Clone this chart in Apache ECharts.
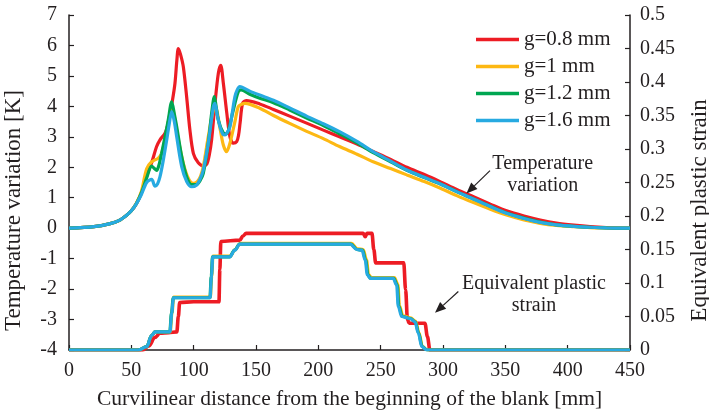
<!DOCTYPE html>
<html>
<head>
<meta charset="utf-8">
<script src="https://cdn.jsdelivr.net/npm/echarts@6/dist/echarts.min.js"></script>
<style>
  html, body { margin: 0; padding: 0; background: #fff; }
  #chart { width: 709px; height: 416px; }
</style>
</head>
<body>
<div id="chart"></div>
<script>
// Gap settings shown in the legend
const seriesNames = ['g=0.8 mm', 'g=1 mm', 'g=1.2 mm', 'g=1.6 mm'];
const seriesColors = ['#ED1C24', '#FDB813', '#00A651', '#27AAE1'];

// Temperature variation [K] along the blank, [distance mm, value]
const tempG08 = [[0,0],[20,0.05],[33,0.15],[40,0.25],[46,0.42],[50,0.57],[54,0.8],[57,1.05],[59.6,1.35],[63,1.8],[66.3,2.15],[70.3,2.68],[73,2.9],[77,3.12],[79,3.35],[81,3.77],[83,4.2],[85,4.76],[86.5,5.5],[87.7,5.9],[89.5,5.7],[91.7,5.3],[94.4,4.3],[97,3.22],[99.8,2.45],[103.7,2.15],[107.7,2.05],[110.5,2.1],[112.5,2.4],[114.4,2.9],[117.1,4.1],[119.8,5.09],[121.7,5.35],[123.8,4.76],[126.6,3.77],[129.1,3.0],[131.8,2.79],[134.5,2.84],[136,3.05],[137.2,3.44],[139.3,4.1],[142.5,4.19],[153,4.08],[164,3.9],[177,3.68],[190.6,3.45],[204,3.22],[217,3.0],[231,2.76],[244,2.52],[258,2.26],[271,2.0],[285,1.76],[298,1.52],[311,1.27],[324.5,1.03],[338,0.79],[351,0.57],[365,0.4],[378,0.27],[391,0.17],[405,0.1],[418,0.05],[431,0.02],[450,0]];
const tempG1 = [[0,0],[20,0.05],[33,0.15],[40,0.25],[46,0.42],[50,0.57],[54,0.82],[58,1.2],[62.3,1.95],[66.3,2.18],[71.6,2.3],[74.3,2.46],[76.5,2.8],[78.4,3.22],[80.5,3.65],[82.8,3.95],[85,3.55],[87.7,2.9],[91.7,2.13],[95.7,1.64],[99.7,1.47],[102.9,1.53],[105.5,1.7],[107.7,2.02],[111.7,3.0],[115.8,3.88],[117.6,3.94],[121.1,3.28],[123.8,2.73],[126.4,2.51],[129.1,2.79],[133.1,3.5],[135.8,3.99],[138.5,4.07],[141.2,4.1],[153,3.94],[164,3.7],[177,3.44],[190.6,3.18],[204,2.94],[217,2.68],[231,2.43],[244,2.18],[258,1.96],[271,1.75],[285,1.53],[298,1.31],[311,1.07],[324.5,0.84],[338,0.62],[351,0.43],[365,0.27],[378,0.16],[391,0.09],[405,0.05],[418,0.02],[431,0.01],[450,0]];
const tempG12 = [[0,0],[20,0.05],[33,0.15],[40,0.25],[46,0.42],[50,0.57],[54,0.8],[58,1.15],[62.3,1.65],[66.3,2.04],[68.5,1.96],[70.3,1.9],[72,2.05],[74.3,2.46],[77,3.0],[79.6,3.55],[82.4,4.15],[84.5,3.75],[86.4,3.33],[90.4,2.35],[94.4,1.69],[98.4,1.43],[102.4,1.43],[105,1.55],[107.7,1.8],[111.7,2.79],[114.4,3.77],[116.6,4.32],[118,4.0],[119.8,3.55],[123.8,3.12],[125.8,3.1],[127.8,3.2],[131.8,3.88],[135.8,4.48],[138,4.54],[145,4.4],[153,4.27],[164,4.12],[177,3.88],[190.6,3.62],[204,3.37],[217,3.1],[231,2.8],[244,2.48],[258,2.18],[271,1.9],[285,1.66],[298,1.45],[311,1.2],[324.5,0.96],[338,0.72],[351,0.5],[365,0.33],[378,0.2],[391,0.11],[405,0.06],[418,0.03],[431,0.01],[450,0]];
const tempG16 = [[0,0],[20,0.05],[33,0.15],[40,0.25],[46,0.42],[50,0.57],[54,0.8],[58,1.1],[62.3,1.5],[66.3,1.6],[69,1.38],[71,1.45],[73,1.69],[75.5,2.2],[78.4,2.9],[80.5,3.45],[82.4,3.83],[84.5,3.5],[86.4,3.0],[90.4,2.02],[94.4,1.53],[98.4,1.36],[102.4,1.42],[105,1.6],[107.7,1.91],[111.7,2.79],[115.8,3.99],[117,4.1],[119,3.7],[121.1,3.33],[123.5,3.08],[125.2,3.06],[127,3.15],[129.1,3.33],[131,3.8],[133.1,4.32],[135,4.55],[137,4.65],[145,4.5],[153,4.37],[164,4.2],[177,3.95],[190.6,3.68],[204,3.43],[217,3.17],[231,2.85],[244,2.51],[258,2.2],[271,1.91],[285,1.67],[298,1.45],[311,1.2],[324.5,0.96],[338,0.71],[351,0.49],[365,0.32],[378,0.19],[391,0.11],[405,0.06],[418,0.03],[431,0.01],[450,0]];

// Equivalent plastic strain along the blank, [distance mm, value]
const strainG08 = [[0,0],[59,0],[64,0.006],[69,0.019],[73,0.025],[80,0.026],[86.5,0.027],[87.7,0.05],[88.8,0.071],[100,0.072],[120.3,0.072],[121,0.12],[121.8,0.162],[137,0.164],[139.5,0.17],[142,0.174],[200,0.174],[236,0.174],[237.6,0.169],[239,0.174],[243,0.174],[244.5,0.15],[246,0.13],[268.5,0.13],[270,0.09],[271.5,0.045],[273,0.04],[285.5,0.04],[287.5,0.02],[289.5,0],[450,0]];
const strainG1 = [[0,0],[55.6,0],[62.3,0.005],[66.3,0.022],[69,0.027],[81.2,0.027],[82.6,0.055],[84,0.079],[113.4,0.079],[114.5,0.11],[115.5,0.14],[129.3,0.14],[133.3,0.15],[137.3,0.159],[226.5,0.159],[231.5,0.151],[236,0.15],[238.6,0.135],[240.3,0.113],[242.5,0.108],[261,0.108],[263.8,0.098],[265.1,0.066],[267.8,0.051],[274,0.048],[278,0.043],[280.7,0.026],[283.5,0.005],[287.5,0],[450,0]];
const strainG12 = [[0,0],[55.6,0],[62.3,0.005],[66.3,0.022],[69,0.027],[80.8,0.027],[82.2,0.055],[83.6,0.078],[113,0.078],[114.1,0.11],[115.1,0.139],[128.8,0.139],[132.8,0.149],[136.8,0.158],[226,0.158],[231,0.15],[235.5,0.149],[238,0.134],[239.8,0.112],[242,0.107],[260.5,0.107],[263.3,0.097],[264.6,0.065],[267.3,0.05],[273.8,0.047],[277.8,0.042],[280.5,0.025],[283.3,0.005],[287.3,0],[450,0]];
const strainG16 = [[0,0],[55.6,0],[62.3,0.005],[66.3,0.022],[69,0.027],[81,0.027],[82.4,0.055],[83.8,0.078],[113.2,0.078],[114.3,0.11],[115.3,0.139],[129,0.139],[133,0.149],[137,0.158],[225.5,0.158],[230.8,0.15],[235,0.149],[237.6,0.134],[239.3,0.112],[241.6,0.107],[260,0.107],[262.8,0.097],[264.1,0.065],[266.8,0.05],[273.5,0.047],[277.5,0.042],[280.2,0.025],[283,0.005],[287,0],[450,0]];

const tempSets = [tempG08, tempG1, tempG12, tempG16];
const strainSets = [strainG08, strainG1, strainG12, strainG16];

const FONT = '"Liberation Serif", "Times New Roman", serif';
const INK = '#231f20';

const chart = echarts.init(document.getElementById('chart'), null, { renderer: 'canvas' });

const series = [];
tempSets.forEach((d, i) => {
  series.push({
    name: seriesNames[i], type: 'line', xAxisIndex: 0, yAxisIndex: 0,
    data: d, symbol: 'none', smooth: 0.3, z: 2 + i,
    lineStyle: { color: seriesColors[i], width: 3.2 },
    itemStyle: { color: seriesColors[i] }
  });
});
strainSets.forEach((d, i) => {
  series.push({
    name: seriesNames[i], type: 'line', xAxisIndex: 0, yAxisIndex: 1,
    data: d, symbol: 'none', smooth: 0.35, smoothMonotone: 'x', z: 2 + i,
    lineStyle: { color: seriesColors[i], width: i === 0 ? 3.6 : 3.2 },
    itemStyle: { color: seriesColors[i] }
  });
});

const axisLine = { show: true, onZero: false, lineStyle: { color: INK, width: 1.5 } };
const axisTick = { show: true, inside: true, length: 5, lineStyle: { color: INK, width: 1.2 } };
const labelStyle = { fontFamily: FONT, fontSize: 20, color: INK };

chart.setOption({
  animation: false,
  backgroundColor: '#fff',
  grid: { left: 69, right: 79, top: 15, bottom: 66, containLabel: false, outerBoundsMode: 'none' },
  legend: {
    data: seriesNames, orient: 'vertical', left: 476, top: 29, padding: 0,
    icon: 'rect', itemWidth: 43, itemHeight: 3.5, itemGap: 6,
    textStyle: { fontFamily: FONT, fontSize: 21, color: INK }
  },
  xAxis: {
    type: 'value', min: 0, max: 450, interval: 50,
    name: 'Curvilinear distance from the beginning of the blank [mm]',
    nameLocation: 'middle', nameGap: 38,
    nameTextStyle: { fontFamily: FONT, fontSize: 21.5, color: INK },
    axisLine, axisTick, splitLine: { show: false },
    axisLabel: Object.assign({ margin: 11 }, labelStyle)
  },
  yAxis: [{
    type: 'value', min: -4, max: 7, interval: 1, position: 'left',
    name: 'Temperature variation [K]', nameLocation: 'middle', nameGap: 44,
    nameTextStyle: { fontFamily: FONT, fontSize: 23, color: INK, padding: [0, 56, 0, 0] },
    axisLine, axisTick, splitLine: { show: false },
    axisLabel: Object.assign({ margin: 12 }, labelStyle)
  }, {
    type: 'value', min: 0, max: 0.5, interval: 0.05, position: 'right',
    name: 'Equivalent plastic strain', nameLocation: 'middle', nameGap: 58,
    nameTextStyle: { fontFamily: FONT, fontSize: 23, color: INK, padding: [0, 56, 0, 0] },
    axisLine, axisTick, splitLine: { show: false },
    axisLabel: Object.assign({ margin: 10, formatter: v => String(Math.round(v * 100) / 100) }, labelStyle)
  }],
  series
});

// Callout texts with arrows, anchored in distance / temperature coordinates
function toPx(pt) { return chart.convertToPixel({ xAxisIndex: 0, yAxisIndex: 0 }, pt); }
function arrow(fromPt, toPt) {
  const a = toPx(fromPt), b = toPx(toPt);
  const dx = b[0] - a[0], dy = b[1] - a[1];
  const len = Math.hypot(dx, dy), ux = dx / len, uy = dy / len;
  const headL = 11, headW = 4.5;
  const bx = b[0] - ux * headL, by = b[1] - uy * headL;
  return [
    { type: 'line', shape: { x1: a[0], y1: a[1], x2: bx, y2: by }, style: { stroke: INK, lineWidth: 1.2 }, z: 20 },
    { type: 'polygon', shape: { points: [[b[0], b[1]], [bx - uy * headW, by + ux * headW], [bx + uy * headW, by - ux * headW]] }, style: { fill: INK }, z: 20 }
  ];
}
function note(text, at) {
  const p = toPx(at);
  return { type: 'text', x: p[0], y: p[1], z: 20,
    style: { text, fontFamily: FONT, fontSize: 20, fill: INK, align: 'center', verticalAlign: 'middle', lineHeight: 22 } };
}
chart.setOption({
  graphic: [
    note('Temperature\nvariation', [380, 1.74]),
    ...arrow([337.7, 1.89], [318.8, 1.14]),
    note('Equivalent plastic\nstrain', [373, -2.19]),
    ...arrow([312.3, -2.08], [293.6, -2.78])
  ]
});
</script>
</body>
</html>
